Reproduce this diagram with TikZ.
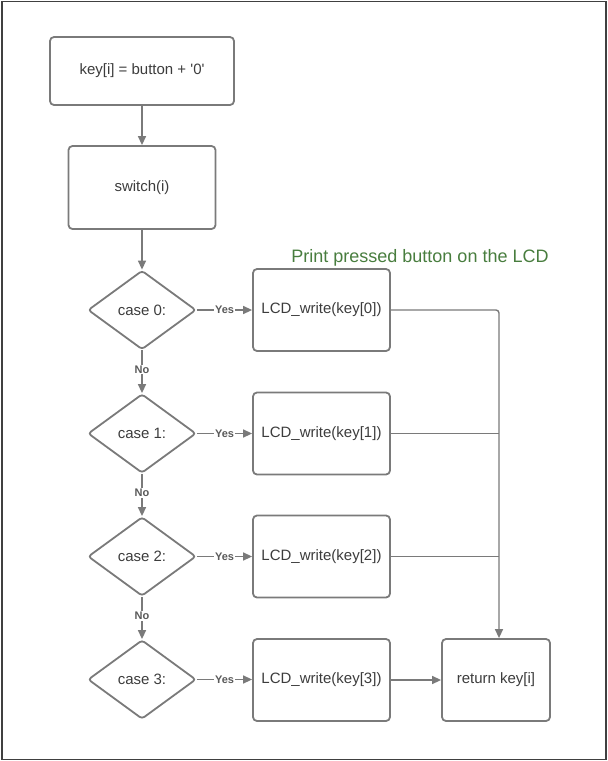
\documentclass[tikz,border=0pt]{standalone}
\usepackage{fontspec}
\setmainfont{Liberation Sans}[Ligatures=TeXOff]
\usetikzlibrary{shapes.geometric,arrows.meta}
\definecolor{linegray}{RGB}{122,122,122}
\definecolor{textgray}{RGB}{60,60,60}
\definecolor{labelgray}{RGB}{90,90,90}
\definecolor{notegreen}{RGB}{72,125,62}
\begin{document}
\begin{tikzpicture}[x=1pt,y=-1pt,
  every node/.style={font=\fontsize{15}{18}\selectfont, text=textgray},
  procbox/.style={draw=linegray, line width=1.8pt, rounded corners=4pt, rectangle, inner sep=0pt},
  decision/.style={draw=linegray, line width=1.8pt, rounded corners=3pt, diamond, aspect=1.37,
     minimum width=108pt, minimum height=79pt, inner sep=0pt},
  conn/.style={draw=linegray, line width=1.4pt},
  arr/.style={conn, -{Triangle[length=9pt,width=8pt]}},
  lbl/.style={font=\fontsize{11}{13}\selectfont\bfseries, text=labelgray, fill=white, inner sep=1pt}
]
\useasboundingbox (0,0) rectangle (608,761);
\draw[draw=black!75, line width=1.5pt] (2,1.5) rectangle (606,759.5);

\node[procbox, minimum width=184pt, minimum height=68pt] (b1) at (142,71) {key[i] = button + '0'};
\node[procbox, minimum width=147pt, minimum height=83pt] (b2) at (142,187.5) {switch(i)};

\node[decision] (d0) at (142,310) {case 0:};
\node[decision] (d1) at (142,433.5) {case 1:};
\node[decision] (d2) at (142,556.5) {case 2:};
\node[decision] (d3) at (142,679.5) {case 3:};

\node[procbox, minimum width=137pt, minimum height=82pt] (l0) at (321.5,310) {LCD\_write(key[0])};
\node[procbox, minimum width=137pt, minimum height=82pt] (l1) at (321.5,433.5) {LCD\_write(key[1])};
\node[procbox, minimum width=137pt, minimum height=82pt] (l2) at (321.5,556.5) {LCD\_write(key[2])};
\node[procbox, minimum width=137pt, minimum height=82pt] (l3) at (321.5,680) {LCD\_write(key[3])};
\node[procbox, minimum width=108pt, minimum height=82pt] (ret) at (496,680) {return key[i]};

\node[font=\fontsize{18}{21}\selectfont, text=notegreen] (note) at (420,258) {Print pressed button on the LCD};

\coordinate (j) at (499,310);

\draw[arr] (b1) -- (b2);
\draw[arr] (b2) -- (d0);

\draw[arr] (d0.east) -- node[lbl]{Yes} (l0.west);
\draw[arr] (d1.east) -- node[lbl]{Yes} (l1.west);
\draw[arr] (d2.east) -- node[lbl]{Yes} (l2.west);
\draw[arr] (d3.east) -- node[lbl]{Yes} (d3.east -| l3.west);

\draw[arr] (d0.south) -- node[lbl, pos=0.45]{No} (d1.north);
\draw[arr] (d1.south) -- node[lbl, pos=0.45]{No} (d2.north);
\draw[arr] (d2.south) -- node[lbl, pos=0.45]{No} (d3.north);

\draw[arr, rounded corners=3pt] (l0.east) -- (j) -- (j |- ret.north);
\draw[conn] (l1.east) -- (l1.east -| j);
\draw[conn] (l2.east) -- (l2.east -| j);
\draw[arr] (l3.east) -- (ret.west);
\end{tikzpicture}
\end{document}
